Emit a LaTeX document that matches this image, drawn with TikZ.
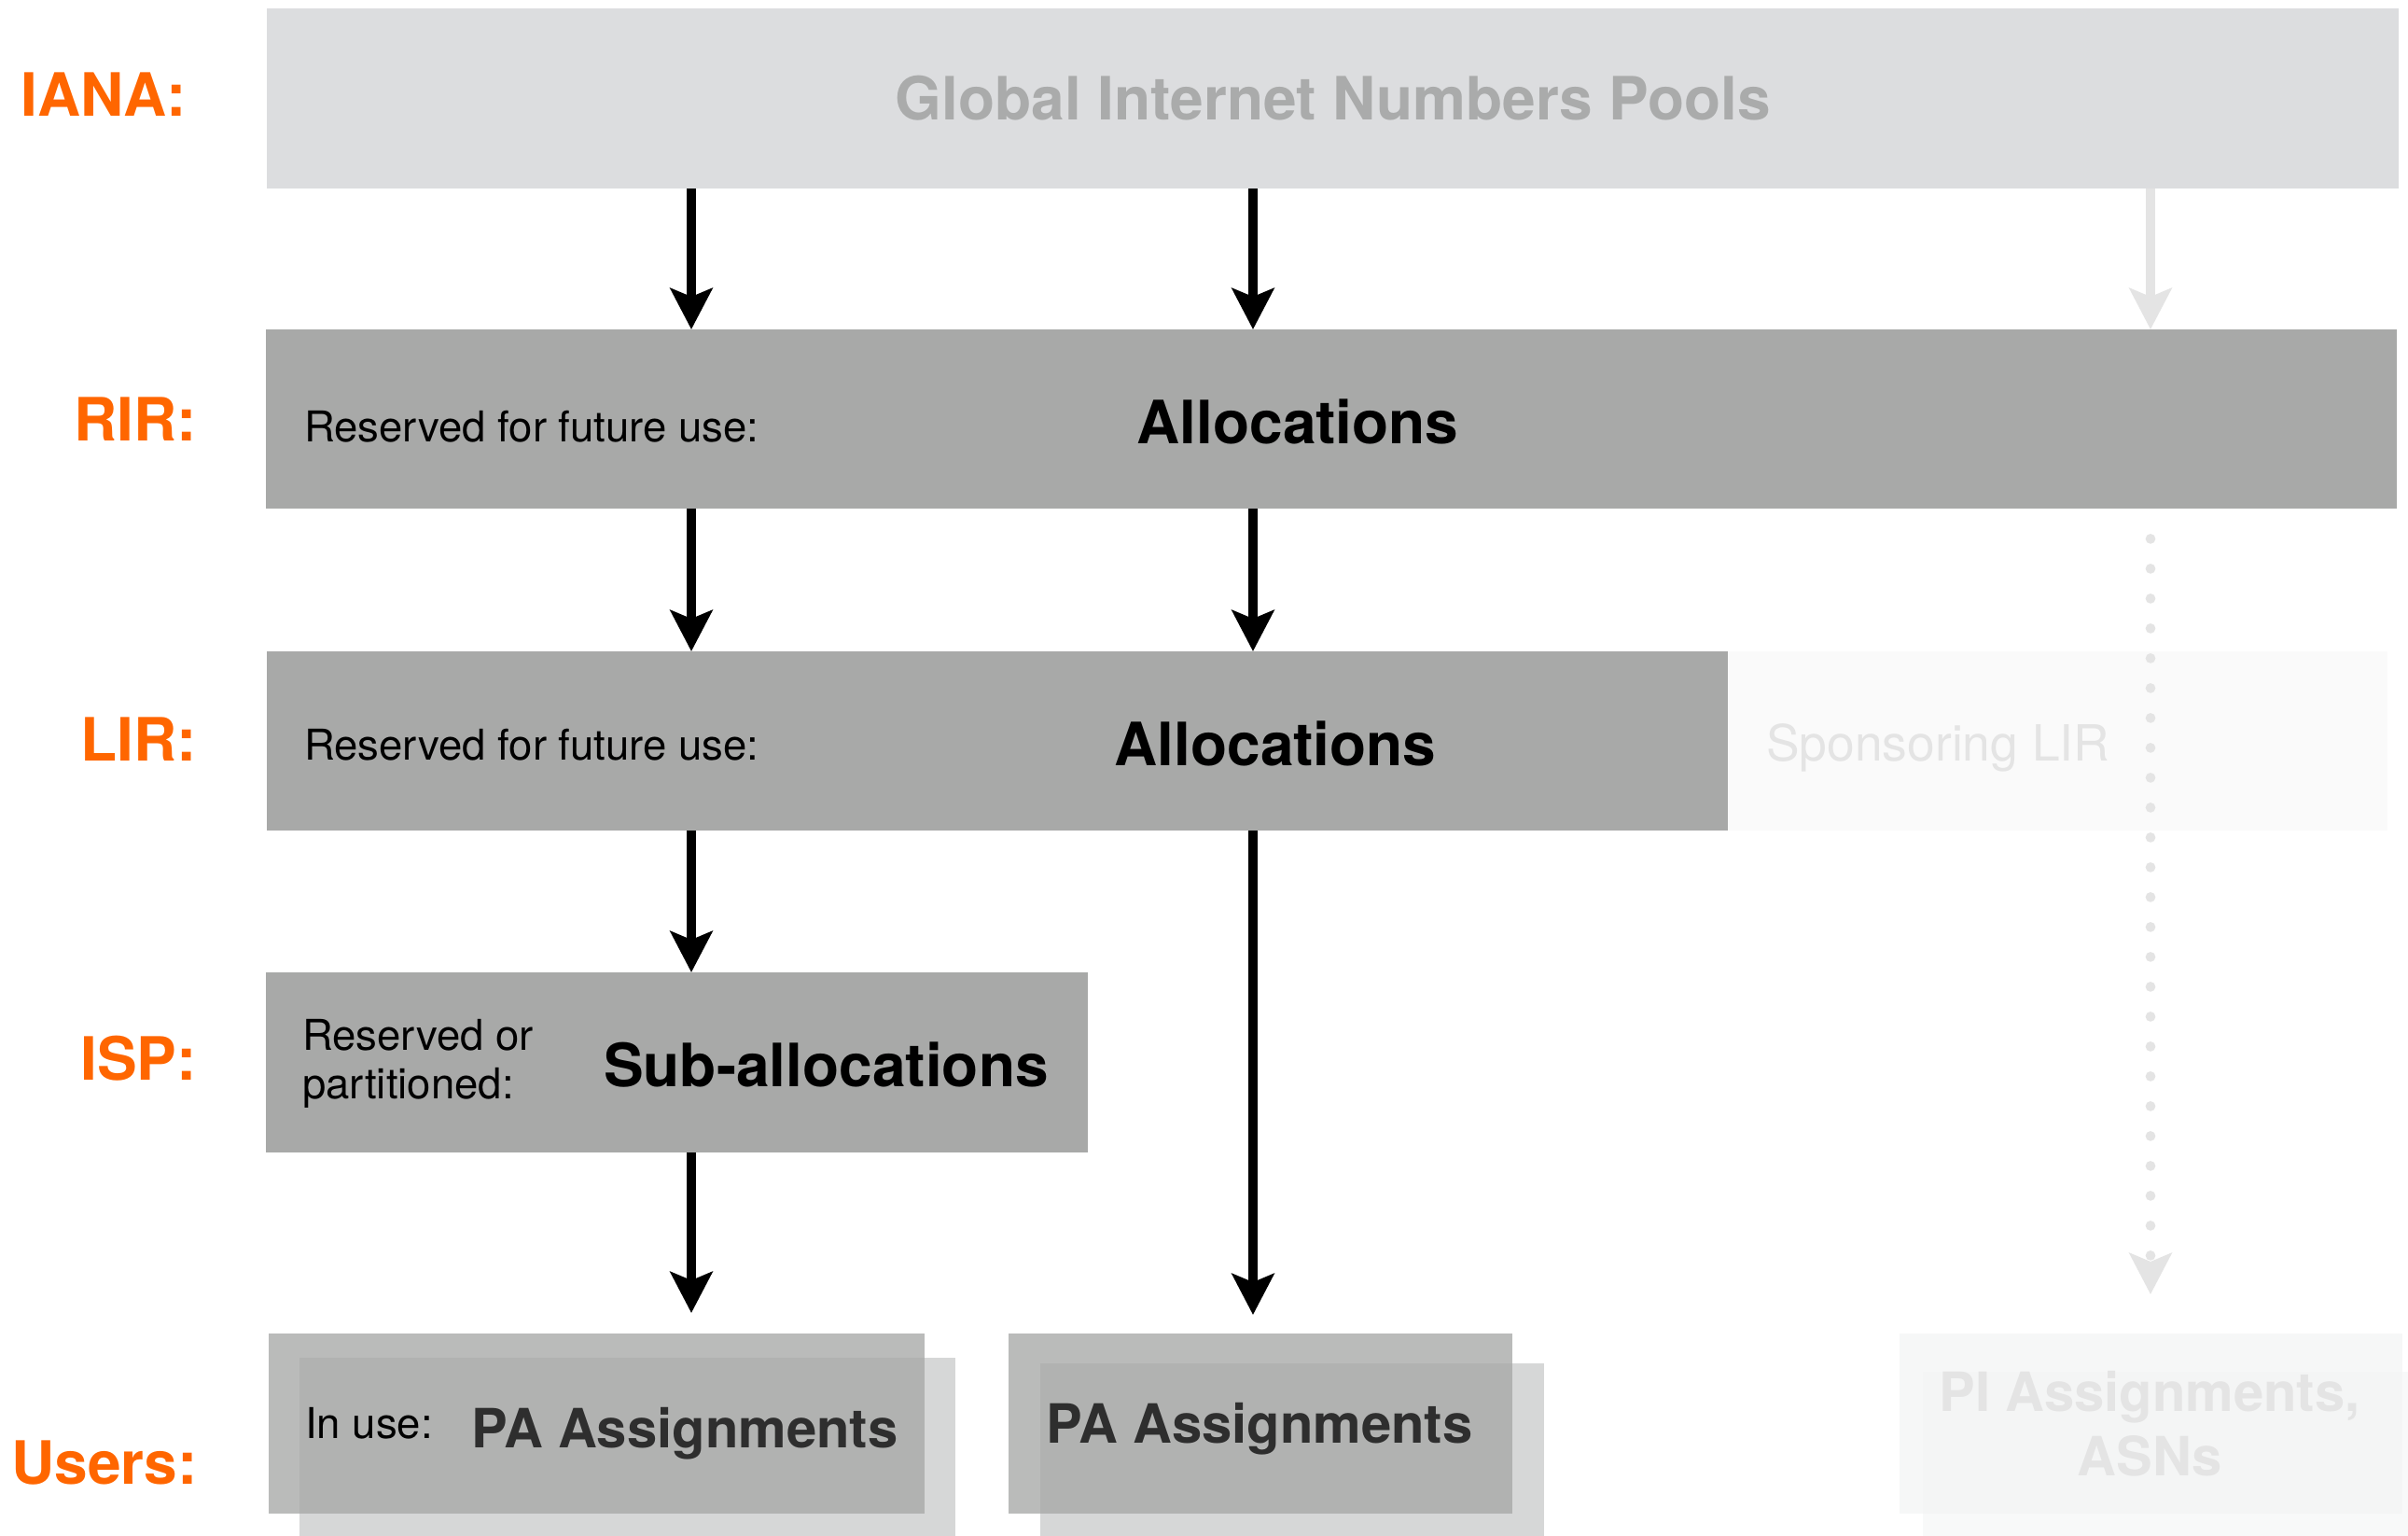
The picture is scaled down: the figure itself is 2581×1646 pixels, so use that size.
\documentclass[tikz,border=0pt]{standalone}
\usepackage{fontspec}
\setmainfont{TeX Gyre Heros}
\usetikzlibrary{arrows.meta}
\definecolor{orng}{HTML}{FF6600}
\definecolor{ianafill}{HTML}{DCDDDF}
\definecolor{ianatext}{HTML}{AAABAB}
\definecolor{midfill}{HTML}{A8A9A8}
\definecolor{sponfill}{HTML}{FAFAFA}
\definecolor{faint}{HTML}{E4E4E4}
\definecolor{usrA}{HTML}{BABBBA}
\definecolor{usrB}{HTML}{D6D7D7}
\definecolor{usrAB}{HTML}{B1B2B1}
\definecolor{piA}{HTML}{F6F7F7}
\definecolor{piB}{HTML}{F8F9F9}
\definecolor{piAB}{HTML}{F4F5F5}
\definecolor{patext}{HTML}{2E2E2E}
\begin{document}
\begin{tikzpicture}[x=1pt,y=-1pt,
  box/.style={rectangle, inner sep=0pt, anchor=north west, draw=none},
  lbl/.style={text=orng, font=\fontsize{64}{70}\selectfont\bfseries, inner sep=0pt, anchor=base east},
  big/.style={font=\fontsize{64}{70}\selectfont\bfseries, inner sep=0pt, anchor=base},
  small/.style={font=\fontsize{45.5}{52}\selectfont, inner sep=0pt, anchor=base west},
  pa/.style={font=\fontsize{58}{64}\selectfont\bfseries, text=patext, inner sep=0pt, anchor=base west},
  arr/.style={line width=10.7pt, -{Stealth[length=44pt,width=45pt,inset=9pt]}},
  farr/.style={arr, draw=faint},
  dots/.style={draw=faint, line width=10.7pt, line cap=round, dash pattern=on 0pt off 32pt,
     -{Stealth[length=44pt,width=45pt,inset=9pt]}}
]
\clip (0,0) rectangle (2581,1646);
\fill[white] (0,0) rectangle (2581,1646);

% boxes
\node[box, fill=ianafill, minimum width=2285pt, minimum height=193pt] (iana) at (286,9) {};
\node[box, fill=midfill, minimum width=2284pt, minimum height=192pt] (rir) at (285,353) {};
\node[box, fill=midfill, minimum width=1566pt, minimum height=192pt] (lir) at (286,698) {};
\node[box, fill=sponfill, minimum width=707pt, minimum height=192pt] (spon) at (1852,698) {};
\node[box, fill=midfill, minimum width=881pt, minimum height=193pt] (isp) at (285,1042) {};

% users boxes (two overlapping layers)
\node[box, fill=usrB, minimum width=703pt, minimum height=260pt] (u1s) at (321,1455) {};
\node[box, fill=usrA, minimum width=703pt, minimum height=193pt] (u1) at (288,1429) {};
\fill[usrAB] (u1s.north west) rectangle (u1.south east);
\node[box, fill=usrB, minimum width=540pt, minimum height=260pt] (u2s) at (1115,1461) {};
\node[box, fill=usrA, minimum width=540pt, minimum height=193pt] (u2) at (1081,1429) {};
\fill[usrAB] (u2s.north west) rectangle (u2.south east);
\node[box, fill=piB, minimum width=540pt, minimum height=260pt] (pis) at (2061,1470) {};
\node[box, fill=piA, minimum width=539pt, minimum height=193pt] (pi) at (2036,1429) {};
\fill[piAB] (pis.north west) rectangle (pi.south east);

% level labels
\node[lbl] (liana) at (200,124) {IANA:};
\node[lbl] (lrir) at (211,472) {RIR:};
\node[lbl] (llir) at (211,815) {LIR:};
\node[lbl] (lisp) at (211,1157) {ISP:};
\node[lbl] (lusr) at (212,1590) {Users:};

% box texts
\node[font=\fontsize{64}{70}\selectfont\bfseries, text=ianatext, inner sep=0pt, anchor=base] (tg) at (1429,128) {Global Internet Numbers Pools};
\node[small] (tr1) at (326,473) {Reserved for future use:};
\node[big] (tr2) at (1391,475) {Allocations};
\node[small] (tl1) at (326,814) {Reserved for future use:};
\node[big] (tl2) at (1367,820) {Allocations};
\node[font=\fontsize{53.4}{60}\selectfont, text=faint, inner sep=0pt, anchor=base west] (ts) at (1893,815) {Sponsoring LIR};
\node[small] (ti1) at (324,1125) {Reserved or};
\node[small] (ti2) at (324,1177) {partitioned:};
\node[font=\fontsize{64}{70}\selectfont\bfseries, inner sep=0pt, anchor=base west] (ti3) at (647,1164) {Sub-allocations};
\node[small] (tu1) at (327,1541) {In use:};
\node[pa] (tu2) at (505,1551) {PA Assignments};
\node[pa] (tu3) at (1121,1546) {PA Assignments};
\node[font=\fontsize{58}{66}\selectfont\bfseries, text=faint, inner sep=0pt, anchor=base] (tp1) at (2304,1512) {PI Assignments,};
\node[font=\fontsize{58}{66}\selectfont\bfseries, text=faint, inner sep=0pt, anchor=base] (tp2) at (2304,1581) {ASNs};

% connector columns
\coordinate (ca) at (741,0);
\coordinate (cb) at (1343,0);
\coordinate (cc) at (2305,0);

\draw[arr] (iana.south -| ca) -- (rir.north -| ca);
\draw[arr] (iana.south -| cb) -- (rir.north -| cb);
\draw[farr] (iana.south -| cc) -- (rir.north -| cc);
\draw[arr] (rir.south -| ca) -- (lir.north -| ca);
\draw[arr] (rir.south -| cb) -- (lir.north -| cb);
\draw[arr] (lir.south -| ca) -- (isp.north -| ca);
\draw[arr, shorten >=20pt] (lir.south -| cb) -- (u2.north -| cb);
\draw[arr, shorten >=22pt] (isp.south -| ca) -- (u1.north -| ca);
\draw[dots, shorten <=32pt, shorten >=42pt] (rir.south -| cc) -- (pi.north -| cc);
\end{tikzpicture}
\end{document}
